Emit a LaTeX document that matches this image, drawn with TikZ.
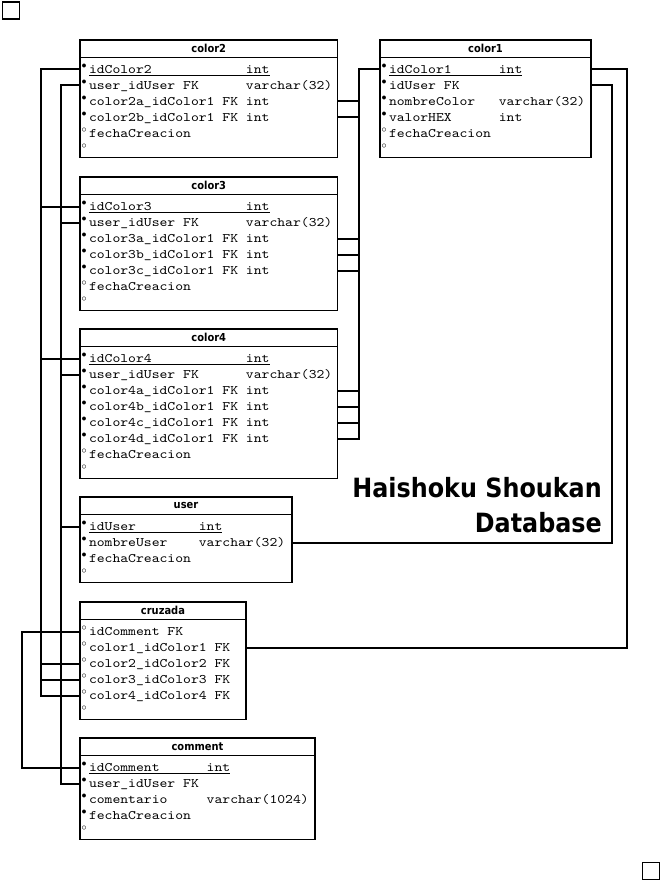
\documentclass[tikz,border=0pt]{standalone}
\usepackage{fontspec}
\setmonofont{lmmono10-regular.otf}[FakeStretch=1.15]
\newfontfamily\headfont{DejaVu Sans}[FakeStretch=0.9]

% row markers and fixed type column
\newcommand{\pk}{\makebox[8.5pt][l]{\hspace{1.2pt}\raisebox{5pt}{\fontsize{10}{10}\selectfont$\bullet$}}}
\newcommand{\op}{\makebox[8.5pt][l]{\hspace{1.2pt}\raisebox{5pt}{\fontsize{10}{10}\selectfont$\circ$}}}
\newcommand{\tcol}[2]{\makebox[#1\fontcharwd\font`x][l]{#2}}

\begin{document}
\begin{tikzpicture}[x=1pt, y=-1pt,
  tbl/.style={draw, line width=1.9pt, anchor=north west, inner sep=0pt, outer sep=0pt},
  head/.style={draw, line width=1.9pt, anchor=north west, inner sep=0pt, outer sep=0pt,
    minimum height=17.5pt, font=\headfont\bfseries\fontsize{11}{11}\selectfont},
  fld/.style={anchor=west, inner xsep=0.5pt, inner ysep=0pt, outer sep=0pt,
    text height=11pt, text depth=3pt, font=\ttfamily\fontsize{13}{13}\selectfont},
  rel/.style={line width=2pt},
  title/.style={anchor=base east, inner sep=0pt, font=\headfont\bfseries\fontsize{26.5}{30}\selectfont}]
  \useasboundingbox (0,0) rectangle (660,880);

  % Page markers
  \node[draw, line width=1.6pt, anchor=north west, minimum size=17pt, inner sep=0pt] (markTL) at (1.5,1.5) {};
  \node[draw, line width=1.6pt, anchor=north west, minimum size=17pt, inner sep=0pt] (markBR) at (641.5,861.5) {};

  % color2
  \node[tbl, minimum width=257.5pt, minimum height=117.5pt] (color2) at (80,40) {};
  \node[head, minimum width=257.5pt] (color2-t) at (80,40) {color2};
  \node[fld] (c2id) at (80,69.5) {\pk\underline{\tcol{20}{idColor2}int}};
  \node[fld] (c2user) at (80,85.5) {\pk\tcol{20}{user\_idUser FK}varchar(32)};
  \node[fld] (c2a) at (80,101.5) {\pk\tcol{20}{color2a\_idColor1 FK}int};
  \node[fld] (c2b) at (80,117.5) {\pk\tcol{20}{color2b\_idColor1 FK}int};
  \node[fld] (c2fecha) at (80,133.5) {\op fechaCreacion};
  \node[fld] (c2end) at (80,149.5) {\op};

  % color1
  \node[tbl, minimum width=211pt, minimum height=117.5pt] (color1) at (380,40) {};
  \node[head, minimum width=211pt] (color1-t) at (380,40) {color1};
  \node[fld] (c1id) at (380,69.5) {\pk\underline{\tcol{14}{idColor1}int}};
  \node[fld] (c1user) at (380,85.5) {\pk idUser FK};
  \node[fld] (c1nombre) at (380,101.5) {\pk\tcol{14}{nombreColor}varchar(32)};
  \node[fld] (c1valor) at (380,117.5) {\pk\tcol{14}{valorHEX}int};
  \node[fld] (c1fecha) at (380,133.5) {\op fechaCreacion};
  \node[fld] (c1end) at (380,149.5) {\op};

  % color3
  \node[tbl, minimum width=257.5pt, minimum height=133.5pt] (color3) at (80,177) {};
  \node[head, minimum width=257.5pt] (color3-t) at (80,177) {color3};
  \node[fld] (c3id) at (80,206.5) {\pk\underline{\tcol{20}{idColor3}int}};
  \node[fld] (c3user) at (80,222.5) {\pk\tcol{20}{user\_idUser FK}varchar(32)};
  \node[fld] (c3a) at (80,238.5) {\pk\tcol{20}{color3a\_idColor1 FK}int};
  \node[fld] (c3b) at (80,254.5) {\pk\tcol{20}{color3b\_idColor1 FK}int};
  \node[fld] (c3c) at (80,270.5) {\pk\tcol{20}{color3c\_idColor1 FK}int};
  \node[fld] (c3fecha) at (80,286.5) {\op fechaCreacion};
  \node[fld] (c3end) at (80,302.5) {\op};

  % color4
  \node[tbl, minimum width=257.5pt, minimum height=149.5pt] (color4) at (80,329) {};
  \node[head, minimum width=257.5pt] (color4-t) at (80,329) {color4};
  \node[fld] (c4id) at (80,358.5) {\pk\underline{\tcol{20}{idColor4}int}};
  \node[fld] (c4user) at (80,374.5) {\pk\tcol{20}{user\_idUser FK}varchar(32)};
  \node[fld] (c4a) at (80,390.5) {\pk\tcol{20}{color4a\_idColor1 FK}int};
  \node[fld] (c4b) at (80,406.5) {\pk\tcol{20}{color4b\_idColor1 FK}int};
  \node[fld] (c4c) at (80,422.5) {\pk\tcol{20}{color4c\_idColor1 FK}int};
  \node[fld] (c4d) at (80,438.5) {\pk\tcol{20}{color4d\_idColor1 FK}int};
  \node[fld] (c4fecha) at (80,454.5) {\op fechaCreacion};
  \node[fld] (c4end) at (80,470.5) {\op};

  % user
  \node[tbl, minimum width=212pt, minimum height=85.5pt] (user) at (80,497) {};
  \node[head, minimum width=212pt] (user-t) at (80,497) {user};
  \node[fld] (uid) at (80,526.5) {\pk\underline{\tcol{14}{idUser}int}};
  \node[fld] (unombre) at (80,542.5) {\pk\tcol{14}{nombreUser}varchar(32)};
  \node[fld] (ufecha) at (80,558.5) {\pk fechaCreacion};
  \node[fld] (uend) at (80,574.5) {\op};

  % cruzada
  \node[tbl, minimum width=166pt, minimum height=117.5pt] (cruzada) at (80,602) {};
  \node[head, minimum width=166pt] (cruzada-t) at (80,602) {cruzada};
  \node[fld] (czcom) at (80,631.5) {\op idComment FK};
  \node[fld] (cz1) at (80,647.5) {\op color1\_idColor1 FK};
  \node[fld] (cz2) at (80,663.5) {\op color2\_idColor2 FK};
  \node[fld] (cz3) at (80,679.5) {\op color3\_idColor3 FK};
  \node[fld] (cz4) at (80,695.5) {\op color4\_idColor4 FK};
  \node[fld] (czend) at (80,711.5) {\op};

  % comment
  \node[tbl, minimum width=235pt, minimum height=101.5pt] (comment) at (80,738) {};
  \node[head, minimum width=235pt] (comment-t) at (80,738) {comment};
  \node[fld] (cmid) at (80,767.5) {\pk\underline{\tcol{15}{idComment}int}};
  \node[fld] (cmuser) at (80,783.5) {\pk user\_idUser FK};
  \node[fld] (cmtext) at (80,799.5) {\pk\tcol{15}{comentario}varchar(1024)};
  \node[fld] (cmfecha) at (80,815.5) {\pk fechaCreacion};
  \node[fld] (cmend) at (80,831.5) {\op};

  % Title
  \node[title] (title1) at (602,497) {Haishoku Shoukan};
  \node[title] (title2) at (602,532) {Database};

  % Bus lines
  \coordinate (busE) at (21.5,0);
  \coordinate (busA) at (41,0);
  \coordinate (busB) at (60.5,0);
  \coordinate (busC) at (359,0);
  \coordinate (busF) at (611.5,0);
  \coordinate (busD) at (627,0);

  % color ids to cruzada
  \draw[rel] (c2id.west) -| (busA |- cz2.west) -- (cz2.west);
  \draw[rel] (c3id.west) -| (busA |- cz3.west) -- (cz3.west);
  \draw[rel] (c4id.west) -| (busA |- cz4.west) -- (cz4.west);

  % user id to the tables
  \draw[rel] (uid.west) -| (busB |- c2user.west) -- (c2user.west);
  \draw[rel] (uid.west) -| (busB |- c3user.west) -- (c3user.west);
  \draw[rel] (uid.west) -| (busB |- c4user.west) -- (c4user.west);
  \draw[rel] (uid.west) -| (busB |- cmuser.west) -- (cmuser.west);

  % comment id to cruzada
  \draw[rel] (cmid.west) -| (busE |- czcom.west) -- (czcom.west);

  % color1 id to the colour columns
  \foreach \r in {c2a,c2b,c3a,c3b,c3c,c4a,c4b,c4c,c4d}
    \draw[rel] (c1id.west) -| (busC |- \r.west) -- (\r.west -| color2.east);

  % color1 to cruzada and user
  \draw[rel] (c1id.west -| color1.east) -| (busD |- cz1.west) -- (cz1.west -| cruzada.east);
  \draw[rel] (c1user.west -| color1.east) -| (busF |- unombre.west) -- (unombre.west -| user.east);
\end{tikzpicture}
\end{document}
